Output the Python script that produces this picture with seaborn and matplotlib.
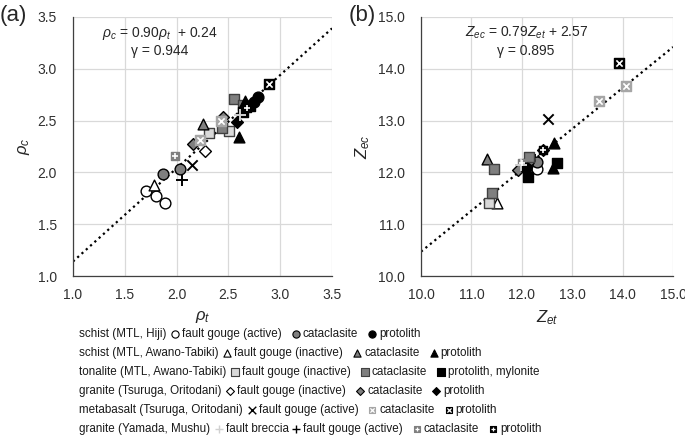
import numpy as np
import matplotlib
matplotlib.use("Agg")
import matplotlib.pyplot as plt
import seaborn as sns
import pandas as pd

sns.set_theme(style="white")
plt.rcParams['font.family'] = ['Liberation Sans', 'DejaVu Sans']
plt.rcParams['mathtext.fontset'] = 'custom'
plt.rcParams['mathtext.it'] = 'Liberation Sans:italic'
plt.rcParams['mathtext.rm'] = 'Liberation Sans'

# ---------------- data: panel (a) density  (rho_t, rho_c) ----------------
a_hiji_gouge = ([1.70, 1.80, 1.89], [1.82, 1.77, 1.70])
a_hiji_cata = ([1.87, 2.03], [1.98, 2.03])
a_hiji_prot = ([2.75, 2.79], [2.68, 2.73])
a_awano_gouge = ([1.78], [1.88])
a_awano_cata = ([2.25], [2.47])
a_awano_prot = ([2.66, 2.60], [2.69, 2.34])
a_ton_gouge = ([2.31, 2.51], [2.38, 2.40])
a_ton_cata = ([2.55, 2.44, 2.64], [2.71, 2.43, 2.65])
a_ton_prot = ([2.64, 2.71], [2.58, 2.64])
a_tsu_gouge = ([2.27], [2.21])
a_tsu_cata = ([2.16, 2.45], [2.27, 2.53])
a_tsu_prot = ([2.58], [2.49])
a_meta_gouge = ([2.15], [2.07])
a_meta_cata = ([2.23, 2.43], [2.31, 2.50])
a_meta_prot = ([2.89], [2.85])
a_yam_breccia = ([2.61], [2.55])
a_yam_gouge = ([2.05], [1.93])
a_yam_cata = ([1.98], [2.16])
a_yam_prot = ([2.68], [2.62])

# ---------------- data: panel (b) acoustic impedance (Z_et, Z_ec) ----------------
b_hiji_gouge = ([12.22, 12.12, 12.30], [12.10, 12.18, 12.07])
b_hiji_cata = ([12.30, 12.14], [12.20, 12.24])
b_hiji_prot = ([12.08], [12.08])
b_awano_gouge = ([11.51], [11.41])
b_awano_cata = ([11.31], [12.26])
b_awano_prot = ([12.62, 12.64], [12.08, 12.57])
b_ton_gouge = ([11.35], [11.41])
b_ton_cata = ([11.45, 11.41, 12.14], [12.07, 11.60, 12.30])
b_ton_prot = ([12.12, 12.70], [11.91, 12.18])
b_tsu_gouge = ([12.08], [12.16])
b_tsu_cata = ([11.92], [12.05])
b_tsu_prot = ([12.42], [12.43])
b_meta_gouge = ([12.52], [13.03])
b_meta_cata = ([13.53, 14.07], [13.38, 13.67])
b_meta_prot = ([13.93], [14.11])
b_yam_breccia = ([11.98], [12.14])
b_yam_gouge = ([12.26], [12.24])
b_yam_cata = ([12.00], [12.18])
b_yam_prot = ([12.42], [12.43])

fit_a = (0.90, 0.24, 0.944)
fit_b = (0.79, 2.57, 0.895)

rock_labels = ["schist (MTL, Hiji)", "schist (MTL, Awano-Tabiki)",
               "tonalite (MTL, Awano-Tabiki)", "granite (Tsuruga, Oritodani)",
               "metabasalt (Tsuruga, Oritodani)", "granite (Yamada, Mushu)"]
type_labels = [["fault gouge (active)", "cataclasite", "protolith"],
               ["fault gouge (inactive)", "cataclasite", "protolith"],
               ["fault gouge (inactive)", "cataclasite", "protolith, mylonite"],
               ["fault gouge (inactive)", "cataclasite", "protolith"],
               ["fault gouge (active)", "cataclasite", "protolith"],
               ["fault breccia", "fault gouge (active)", "cataclasite", "protolith"]]
row_groups = [['hiji_gouge', 'hiji_cata', 'hiji_prot'],
              ['awano_gouge', 'awano_cata', 'awano_prot'],
              ['ton_gouge', 'ton_cata', 'ton_prot'],
              ['tsu_gouge', 'tsu_cata', 'tsu_prot'],
              ['meta_gouge', 'meta_cata', 'meta_prot'],
              ['yam_breccia', 'yam_gouge', 'yam_cata', 'yam_prot']]

# style per group: marker, face, edge, size, overlay marker
GRAY = '#7f7f7f'
styles = {
    'hiji_gouge': ('o', 'white', 'black', 60, None),
    'hiji_cata': ('o', GRAY, 'black', 60, None),
    'hiji_prot': ('o', 'black', 'black', 60, None),
    'awano_gouge': ('^', 'white', 'black', 60, None),
    'awano_cata': ('^', GRAY, 'black', 60, None),
    'awano_prot': ('^', 'black', 'black', 60, None),
    'ton_gouge': ('s', '#d9d9d9', '#404040', 60, None),
    'ton_cata': ('s', GRAY, '#404040', 60, None),
    'ton_prot': ('s', 'black', 'black', 60, None),
    'tsu_gouge': ('D', 'white', 'black', 36, None),
    'tsu_cata': ('D', GRAY, 'black', 36, None),
    'tsu_prot': ('D', 'black', 'black', 36, None),
    'meta_gouge': ('x', 'black', 'black', 55, None),
    'meta_cata': ('s', '#a6a6a6', '#a6a6a6', 45, 'x'),
    'meta_prot': ('s', 'black', 'black', 45, 'x'),
    'yam_breccia': ('+', '#d0d0d0', '#d0d0d0', 70, None),
    'yam_gouge': ('+', 'black', 'black', 70, None),
    'yam_cata': ('s', GRAY, GRAY, 40, '+'),
    'yam_prot': ('s', 'black', 'black', 40, '+'),
}
order = ['hiji_gouge', 'awano_gouge', 'ton_gouge', 'tsu_gouge', 'meta_gouge', 'yam_gouge',
         'hiji_cata', 'awano_cata', 'ton_cata', 'tsu_cata', 'meta_cata', 'yam_cata',
         'hiji_prot', 'awano_prot', 'ton_prot', 'tsu_prot', 'meta_prot', 'yam_prot',
         'yam_breccia']

rows = []
for panel, ns in (('a', 'a_'), ('b', 'b_')):
    for g in order:
        xs, ys = globals()[ns + g]
        for xv, yv in zip(xs, ys):
            rows.append(dict(panel=panel, group=g, x=xv, y=yv))
df = pd.DataFrame(rows)

W, H = 685, 436
fig = plt.figure(figsize=(W / 100, H / 100), dpi=100)

def px_axes(l, t, r, b):
    return fig.add_axes([l / W, 1 - b / H, (r - l) / W, (b - t) / H])

axa = px_axes(73, 17, 332, 276)
axb = px_axes(421, 17, 673, 276)


def draw_panel(ax, panel, lims, ticks, fit, xlabel, ylabel, eqtext, eqx):
    sub = df[df.panel == panel]
    for g in order:
        d = sub[sub.group == g]
        if d.empty:
            continue
        m, fc, ec, s, ov = styles[g]
        if m in ('x', '+'):
            sns.scatterplot(data=d, x='x', y='y', ax=ax, marker=m, color=fc, s=s,
                            linewidth=1.4, zorder=3)
        else:
            sns.scatterplot(data=d, x='x', y='y', ax=ax, marker=m, color=fc,
                            edgecolor=ec, s=s, linewidth=1.0, zorder=3)
        if ov:
            sns.scatterplot(data=d, x='x', y='y', ax=ax, marker=ov, color='white',
                            s=s * 0.45, linewidth=1.2, zorder=3.1)
    k, c, r = fit
    xl = np.array(lims)
    ax.plot(xl, k * xl + c, color='black', linestyle=(0, (1, 1.6)), lw=1.6, zorder=2)
    ax.set_xlim(lims)
    ax.set_ylim(lims)
    ax.set_xticks(ticks)
    ax.set_yticks(ticks)
    ax.set_xticklabels([f"{t:.1f}" for t in ticks], fontsize=10)
    ax.set_yticklabels([f"{t:.1f}" for t in ticks], fontsize=10)
    ax.tick_params(axis='x', length=0, pad=8.5, colors='#303030')
    ax.tick_params(axis='y', length=0, pad=11.5, colors='#303030')
    ax.grid(True, color='#d9d9d9', lw=0.9)
    for sp in ('top', 'right'):
        ax.spines[sp].set_visible(False)
    for sp in ('left', 'bottom'):
        ax.spines[sp].set_color('#404040')
        ax.spines[sp].set_linewidth(0.9)
    ax.set_xlabel(xlabel, fontsize=12, labelpad=5)
    ax.set_ylabel(ylabel, fontsize=12, labelpad=4)
    ax.text(eqx, 0.938, eqtext, transform=ax.transAxes, ha='center', va='center', fontsize=10)
    ax.text(eqx, 0.868, f"γ = {r:.3f}", transform=ax.transAxes, ha='center', va='center', fontsize=10)


draw_panel(axa, 'a', (1.0, 3.5), [1.0, 1.5, 2.0, 2.5, 3.0, 3.5], fit_a,
           r"$\rho_t$", r"$\rho_c$", r"$\rho_c$ = 0.90$\rho_t$  + 0.24", 0.336)
draw_panel(axb, 'b', (10.0, 15.0), [10.0, 11.0, 12.0, 13.0, 14.0, 15.0], fit_b,
           r"$Z_{et}$", r"$Z_{ec}$", r"$Z_{ec}$ = 0.79$Z_{et}$ + 2.57", 0.417)

fig.text(0 / W, 1 - 16 / H, "(a)", fontsize=16, ha='left', va='center')
fig.text(349 / W, 1 - 16 / H, "(b)", fontsize=16, ha='left', va='center')

# ---------------- legend block ----------------
lg = fig.add_axes([0, 0, 1, 1], zorder=-1)
lg.set_xlim(0, W)
lg.set_ylim(H, 0)
lg.axis('off')
renderer = fig.canvas.get_renderer()

row_y = [334, 353, 372, 391, 410, 429]
fixed_row1 = [174, 291, 367]
fs_leg = 8.4
for i, yv in enumerate(row_y):
    t = lg.text(79, yv, rock_labels[i], fontsize=fs_leg, va='center', ha='left', color='#1a1a1a')
    xend = t.get_window_extent(renderer).x1
    xc = xend + 9
    for j, (g, lab) in enumerate(zip(row_groups[i], type_labels[i])):
        if i == 0:
            xc = max(xc, fixed_row1[j])
        m, fc, ec, s, ov = styles[g]
        ss = s * 0.45
        if m in ('x', '+'):
            lg.scatter([xc], [yv], marker=m, c=fc, s=ss * 1.2, linewidths=1.0)
        else:
            lg.scatter([xc], [yv], marker=m, c=fc, edgecolors=ec, s=ss, linewidths=0.8)
        if ov:
            lg.scatter([xc], [yv], marker=ov, c='white', s=ss * 0.45, linewidths=0.9)
        tt = lg.text(xc + 7, yv, lab, fontsize=fs_leg, va='center', ha='left', color='#1a1a1a')
        xend = tt.get_window_extent(renderer).x1
        xc = xend + (7 if g == 'yam_breccia' else 14)

fig.savefig("out.png", dpi=100)
